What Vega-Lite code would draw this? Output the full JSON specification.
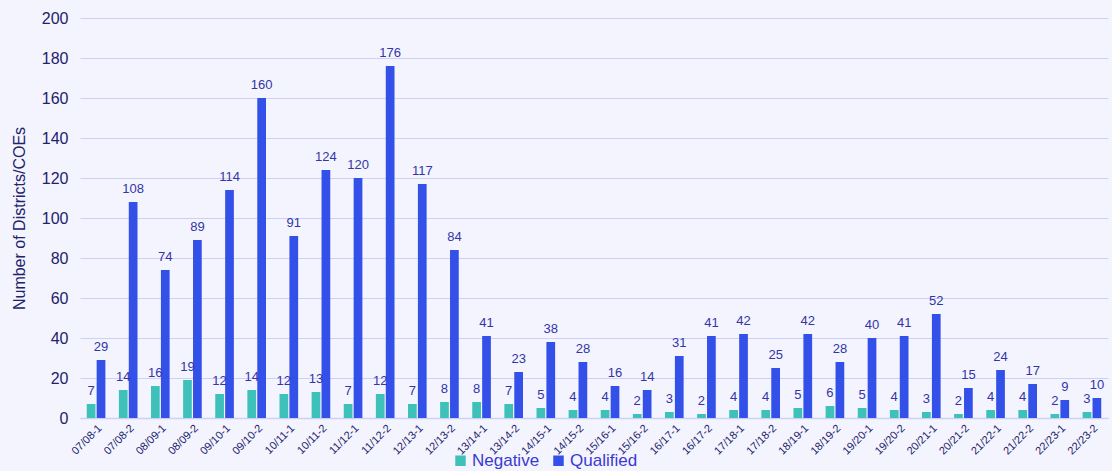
{
  "$schema": "https://vega.github.io/schema/vega-lite/v6.json",
  "width": 1028,
  "height": 400,
  "autosize": "none",
  "padding": {"left": 80, "top": 18, "right": 4, "bottom": 53},
  "background": "#f3f4fe",
  "config": {
    "view": {"stroke": null},
    "font": "Liberation Sans"
  },
  "data": {
    "values": [
      {"p":"07/08-1","s":"Negative","v":7},{"p":"07/08-1","s":"Qualified","v":29},
      {"p":"07/08-2","s":"Negative","v":14},{"p":"07/08-2","s":"Qualified","v":108},
      {"p":"08/09-1","s":"Negative","v":16},{"p":"08/09-1","s":"Qualified","v":74},
      {"p":"08/09-2","s":"Negative","v":19},{"p":"08/09-2","s":"Qualified","v":89},
      {"p":"09/10-1","s":"Negative","v":12},{"p":"09/10-1","s":"Qualified","v":114},
      {"p":"09/10-2","s":"Negative","v":14},{"p":"09/10-2","s":"Qualified","v":160},
      {"p":"10/11-1","s":"Negative","v":12},{"p":"10/11-1","s":"Qualified","v":91},
      {"p":"10/11-2","s":"Negative","v":13},{"p":"10/11-2","s":"Qualified","v":124},
      {"p":"11/12-1","s":"Negative","v":7},{"p":"11/12-1","s":"Qualified","v":120},
      {"p":"11/12-2","s":"Negative","v":12},{"p":"11/12-2","s":"Qualified","v":176},
      {"p":"12/13-1","s":"Negative","v":7},{"p":"12/13-1","s":"Qualified","v":117},
      {"p":"12/13-2","s":"Negative","v":8},{"p":"12/13-2","s":"Qualified","v":84},
      {"p":"13/14-1","s":"Negative","v":8},{"p":"13/14-1","s":"Qualified","v":41},
      {"p":"13/14-2","s":"Negative","v":7},{"p":"13/14-2","s":"Qualified","v":23},
      {"p":"14/15-1","s":"Negative","v":5},{"p":"14/15-1","s":"Qualified","v":38},
      {"p":"14/15-2","s":"Negative","v":4},{"p":"14/15-2","s":"Qualified","v":28},
      {"p":"15/16-1","s":"Negative","v":4},{"p":"15/16-1","s":"Qualified","v":16},
      {"p":"15/16-2","s":"Negative","v":2},{"p":"15/16-2","s":"Qualified","v":14},
      {"p":"16/17-1","s":"Negative","v":3},{"p":"16/17-1","s":"Qualified","v":31},
      {"p":"16/17-2","s":"Negative","v":2},{"p":"16/17-2","s":"Qualified","v":41},
      {"p":"17/18-1","s":"Negative","v":4},{"p":"17/18-1","s":"Qualified","v":42},
      {"p":"17/18-2","s":"Negative","v":4},{"p":"17/18-2","s":"Qualified","v":25},
      {"p":"18/19-1","s":"Negative","v":5},{"p":"18/19-1","s":"Qualified","v":42},
      {"p":"18/19-2","s":"Negative","v":6},{"p":"18/19-2","s":"Qualified","v":28},
      {"p":"19/20-1","s":"Negative","v":5},{"p":"19/20-1","s":"Qualified","v":40},
      {"p":"19/20-2","s":"Negative","v":4},{"p":"19/20-2","s":"Qualified","v":41},
      {"p":"20/21-1","s":"Negative","v":3},{"p":"20/21-1","s":"Qualified","v":52},
      {"p":"20/21-2","s":"Negative","v":2},{"p":"20/21-2","s":"Qualified","v":15},
      {"p":"21/22-1","s":"Negative","v":4},{"p":"21/22-1","s":"Qualified","v":24},
      {"p":"21/22-2","s":"Negative","v":4},{"p":"21/22-2","s":"Qualified","v":17},
      {"p":"22/23-1","s":"Negative","v":2},{"p":"22/23-1","s":"Qualified","v":9},
      {"p":"22/23-2","s":"Negative","v":3},{"p":"22/23-2","s":"Qualified","v":10}
    ]
  },
  "encoding": {
    "x": {
      "field": "p", "type": "nominal", "sort": null,
      "scale": {"paddingInner": 0.42, "paddingOuter": 0.21},
      "axis": {
        "title": null, "labelAngle": -45, "labelFontSize": 11, "labelColor": "#22226a",
        "ticks": false, "domainColor": "#cdd0f5", "domainWidth": 1.5, "labelPadding": 4
      }
    },
    "xOffset": {"field": "s", "type": "nominal", "scale": {"paddingInner": 0.12}},
    "y": {
      "field": "v", "type": "quantitative",
      "scale": {"domain": [0, 200]},
      "axis": {
        "title": "Number of Districts/COEs", "titleFontSize": 16, "titleFontWeight": "normal",
        "titleColor": "#22226a", "titlePadding": 14,
        "values": [0,20,40,60,80,100,120,140,160,180,200],
        "labelFontSize": 16, "labelColor": "#22226a", "labelPadding": 12,
        "ticks": false, "domain": false, "gridColor": "#cdd0f5", "gridWidth": 1
      }
    }
  },
  "layer": [
    {
      "mark": {"type": "bar"},
      "encoding": {
        "color": {
          "field": "s", "type": "nominal",
          "scale": {"domain": ["Negative", "Qualified"], "range": ["#3ec1b8", "#3350e8"]},
          "legend": {
            "title": null, "orient": "none", "direction": "horizontal",
            "legendX": 372, "legendY": 434,
            "symbolType": "square", "symbolSize": 110, "symbolStrokeWidth": 0,
            "labelFontSize": 17, "labelColor": "#3a3ad0", "columnPadding": 10, "labelOffset": 3
          }
        }
      }
    },
    {
      "mark": {"type": "text", "baseline": "bottom", "dy": -6, "fontSize": 13, "color": "#3434a8"},
      "encoding": {
        "text": {"field": "v", "type": "quantitative"}
      }
    }
  ]
}
